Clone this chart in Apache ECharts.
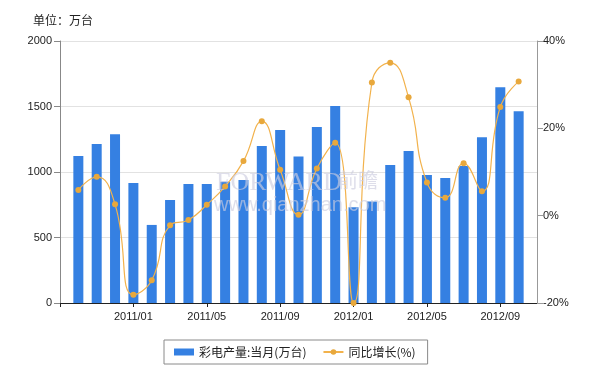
<!DOCTYPE html>
<html>
<head>
<meta charset="utf-8">
<script src="https://cdn.jsdelivr.net/npm/echarts@6/dist/echarts.min.js"></script>
<style>
html,body{margin:0;padding:0;background:#fff;}
#c{width:594px;height:375px;}
</style>
</head>
<body>
<div id="c"></div>
<script>
var categories = ['2010/09','2010/10','2010/11','2010/12',
  '2011/01','2011/02','2011/03','2011/04','2011/05','2011/06','2011/07','2011/08','2011/09','2011/10','2011/11','2011/12',
  '2012/01','2012/02','2012/03','2012/04','2012/05','2012/06','2012/07','2012/08','2012/09','2012/10','2012/11'];
var production = [null,1122,1213,1289,
  916,596,787,909,909,925,939,1198,1320,1119,1343,1503,
  731,774,1053,1160,977,954,1046,1266,1647,1464,null];
var growth = [null,5.9,8.9,2.6,
  -18.1,-14.8,-2.2,-1.0,2.5,6.7,12.5,21.6,10.5,0.2,10.8,16.7,
  -20,30.5,35.0,27.1,7.6,4.1,12.0,5.6,24.9,30.7,null];
var leftTicks = {min:0, max:2000, interval:500};
var rightTicks = {min:-20, max:40, interval:20};
var seriesNames = ['彩电产量:当月(万台)','同比增长(%)'];
var unitText = '单位：万台';

var labelFont = 'Liberation Sans, Arial, sans-serif';
var cjkFont = 'Noto Sans CJK SC, sans-serif';
var chart = echarts.init(document.getElementById('c'));
chart.setOption({
  animation:false,
  backgroundColor:'#fff',
  title:{text:unitText,left:28,top:9,textStyle:{fontSize:12,fontWeight:'normal',color:'#222',fontFamily:cjkFont}},
  grid:{left:60,right:57,top:41,bottom:72},
  legend:{
    left:164,top:340,padding:[6,12,6,10],
    borderColor:'#8a8a8a',borderWidth:1,borderRadius:0,
    itemWidth:20,itemHeight:7,itemGap:16,
    textStyle:{fontSize:12,color:'#222',fontFamily:cjkFont},
    data:[{name:seriesNames[0],icon:'rect'},{name:seriesNames[1]}]
  },
  xAxis:{
    type:'category',data:categories,boundaryGap:false,
    axisLine:{lineStyle:{color:'#222',width:1}},
    axisTick:{length:4,interval:function(i){return i%4===0;},lineStyle:{color:'#222'}},
    axisLabel:{interval:function(i){return i%4===0 && i>0;},margin:8,fontSize:11,color:'#222',fontFamily:labelFont},
    splitLine:{show:false}
  },
  yAxis:[
    {type:'value',min:leftTicks.min,max:leftTicks.max,interval:leftTicks.interval,
     axisLine:{show:true,lineStyle:{color:'#888'}},
     axisTick:{show:true,length:6,lineStyle:{color:'#888'}},
     axisLabel:{margin:8,fontSize:11,color:'#222',fontFamily:labelFont,formatter:function(v){return String(v);}},
     splitLine:{show:true,lineStyle:{color:'#e2e2e2'}}},
    {type:'value',min:rightTicks.min,max:rightTicks.max,interval:rightTicks.interval,position:'right',
     axisLine:{show:true,lineStyle:{color:'#999'}},
     axisTick:{show:true,length:6,lineStyle:{color:'#999'}},
     axisLabel:{margin:6,fontSize:11,color:'#222',fontFamily:labelFont,formatter:'{value}%'},
     splitLine:{show:false}}
  ],
  series:[
    {name:seriesNames[0],type:'bar',data:production,barWidth:10,
     itemStyle:{color:'#3580e2'},z:2},
    {name:seriesNames[1],type:'line',yAxisIndex:1,data:growth,smooth:0.5,
     symbol:'circle',symbolSize:6,showSymbol:true,
     lineStyle:{color:'#f2b24c',width:1.2},
     itemStyle:{color:'#e8a83c'},z:3}
  ],
  graphic:[
    {type:'text',left:216,top:170,z:10,silent:true,
     style:{text:'FORWARD',font:'26px "Liberation Serif", serif',fill:'rgba(205,205,222,0.65)'}},
    {type:'text',left:338,top:170,z:10,silent:true,
     style:{text:'前瞻',font:'20px "Noto Sans CJK SC", sans-serif',fill:'rgba(205,205,222,0.65)'}},
    {type:'text',left:214,top:195,z:10,silent:true,
     style:{text:'www.qianzhan.com',font:'20px "Liberation Sans", sans-serif',fill:'rgba(205,205,222,0.65)'}}
  ]
});
</script>
</body>
</html>
